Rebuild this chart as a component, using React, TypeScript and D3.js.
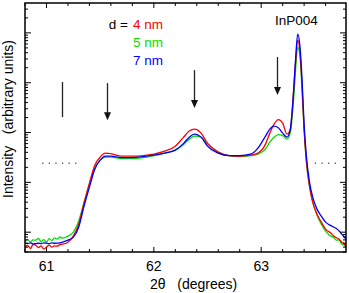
import React from 'react';
import * as d3 from 'd3';

// 2-theta scan around InP(004), log intensity, three layer thicknesses
const theta = [60.80, 60.825, 60.85, 60.875, 60.90, 60.925, 60.95, 60.975, 61.00, 61.025,
  61.05, 61.075, 61.10, 61.125, 61.15, 61.20, 61.25, 61.30, 61.35, 61.40,
  61.45, 61.50, 61.55, 61.60, 61.70, 61.80, 61.90, 62.00, 62.10, 62.20,
  62.27, 62.33, 62.38, 62.44, 62.50, 62.60, 62.70, 62.80, 62.90, 62.97,
  63.04, 63.08, 63.12, 63.16, 63.20, 63.24, 63.27, 63.30, 63.32, 63.34,
  63.36, 63.38, 63.40, 63.42, 63.45, 63.48, 63.52, 63.56, 63.60, 63.65,
  63.675, 63.70, 63.725, 63.75, 63.775, 63.80];

const int4nm = [0.500, 0.540, 0.470, 0.560, 0.548, 0.490, 0.530, 0.460, 0.500, 0.550,
  0.500, 0.530, 0.524, 0.560, 0.574, 0.630, 0.831, 1.45, 3.82, 9.64,
  22.1, 32.1, 38.6, 37.7, 33.6, 33.6, 34.4, 36.8, 42.3, 53.3,
  77.2, 107, 117, 97.3, 61.2, 40.4, 34.4, 33.6, 35.2, 38.6,
  58.5, 97.3, 148, 182, 154, 92.9, 112, 618, 2590, 7170,
  4520, 895, 112, 27.9, 8.39, 4.00, 2.30, 1.59, 1.15, 0.955,
  0.840, 0.775, 0.720, 0.630, 0.580, 0.456];

const int5nm = [0.660, 0.720, 0.630, 0.700, 0.691, 0.750, 0.640, 0.710, 0.630, 0.740,
  0.680, 0.770, 0.723, 0.800, 0.758, 0.831, 1.00, 1.66, 4.00, 9.20,
  19.3, 27.9, 32.1, 32.1, 29.9, 29.9, 31.3, 34.4, 38.6, 44.3,
  55.8, 73.7, 84.7, 80.8, 58.5, 40.4, 34.4, 32.8, 34.4, 36.8,
  46.4, 64.1, 80.8, 90.7, 86.6, 73.7, 97.3, 408, 1790, 5190,
  3580, 779, 112, 27.9, 8.39, 4.00, 2.19, 1.45, 1.05, 0.831,
  0.790, 0.691, 0.700, 0.574, 0.550, 0.435];

const int7nm = [0.601, 0.590, 0.610, 0.580, 0.588, 0.600, 0.590, 0.610, 0.601, 0.590,
  0.610, 0.600, 0.601, 0.610, 0.630, 0.691, 0.794, 1.26, 3.33, 8.01,
  18.4, 27.9, 33.6, 33.6, 31.3, 31.3, 32.8, 35.2, 38.6, 44.3,
  58.5, 80.8, 92.9, 80.8, 53.3, 38.6, 34.4, 34.4, 36.8, 48.6,
  84.7, 117, 134, 125, 97.3, 80.8, 112, 564, 2840, 9460,
  5690, 1240, 141, 35.2, 10.1, 5.04, 2.90, 2.10, 1.59, 1.35,
  1.27, 1.18, 1.06, 0.912, 0.800, 0.630];

const thickness = ['4 nm', '5 nm', '7 nm'];
const colors = ['#ff0000', '#00e000', '#0000ff'];
const xLabels = [61, 62, 63];

// markers: theta, top / bottom intensity, arrowhead or not
const markerTheta = [61.14, 61.56, 62.37, 63.15];
const markerTop = [1030, 982, 1790, 3270];
const markerBottom = [204, 177, 309, 564];
const markerArrow = [false, true, true, true];

// dotted baseline level
const baseLevel = 24.3;
const baseRanges = [[60.96, 61.33], [63.50, 63.71]];

const W = 349, H = 293;
const left = 25, right = 346, top = 3, bottom = 252;

export default function App() {
  const x = d3.scaleLinear().domain([60.8, 63.79]).range([left, right]);
  const y = d3.scaleLog().domain([0.4, 39800]).range([bottom, top]);

  const series = [int5nm, int4nm, int7nm];
  const seriesColor = [colors[1], colors[0], colors[2]];

  const line = d3.line<number>()
    .x((d, i) => x(theta[i]))
    .y(d => y(d))
    .curve(d3.curveMonotoneX);

  const yTicks = y.ticks();
  const xMinor = x.ticks(15);
  const font = '"Liberation Sans", Arial, sans-serif';

  return (
    <div style={{ position: 'absolute', left: 0, top: 0 }}>
      <svg width={W} height={H} style={{ display: 'block' }} fontFamily={font}>
        <defs>
          <clipPath id="plot">
            <rect x={left} y={top} width={right - left} height={bottom - top} />
          </clipPath>
        </defs>

        <g clipPath="url(#plot)">
          {series.map((s, k) => (
            <path key={k} d={line(s) || ''} fill="none" stroke={seriesColor[k]} strokeWidth={1.3} />
          ))}
        </g>

        {baseRanges.map((r, i) => (
          <line key={i} x1={x(r[0])} x2={x(r[1])} y1={y(baseLevel)} y2={y(baseLevel)}
            stroke="#000" strokeWidth={1} strokeDasharray="1.2,5.4" />
        ))}

        {markerTheta.map((t, i) => {
          const xx = Math.round(x(t)) + 0.5;
          const y0 = y(markerTop[i]);
          const y1 = y(markerBottom[i]);
          return (
            <g key={i}>
              <line x1={xx} x2={xx} y1={y0} y2={markerArrow[i] ? y1 - 6 : y1} stroke="#222" strokeWidth={1.3} />
              {markerArrow[i] && (
                <path d={`M${xx - 3.5},${y1 - 8} L${xx + 3.5},${y1 - 8} L${xx},${y1} Z`} fill="#111" />
              )}
            </g>
          );
        })}

        {/* y ticks, both sides */}
        {yTicks.map((v, i) => {
          const major = Math.abs(Math.log10(v) - Math.round(Math.log10(v))) < 1e-6;
          const len = major ? 6 : 3;
          const yy = y(v);
          return (
            <g key={i} stroke="#000" strokeWidth={1}>
              <line x1={left} x2={left + len} y1={yy} y2={yy} />
              <line x1={right} x2={right - len} y1={yy} y2={yy} />
            </g>
          );
        })}

        {/* x ticks, top and bottom */}
        {xMinor.map((v, i) => {
          const major = xLabels.some(l => Math.abs(l - v) < 1e-6);
          const len = major ? 5 : 3;
          const xx = x(v);
          return (
            <g key={i} stroke="#000" strokeWidth={1}>
              <line x1={xx} x2={xx} y1={bottom} y2={bottom - len} />
              <line x1={xx} x2={xx} y1={top} y2={top + len} />
            </g>
          );
        })}

        <rect x={left} y={top} width={right - left} height={bottom - top} fill="none" stroke="#000" strokeWidth={1.5} />

        {xLabels.map(v => (
          <text key={v} x={x(v)} y={271} textAnchor="middle" fontSize={14}>{v}</text>
        ))}

        <text x={150} y={289} fontSize={14} style={{ whiteSpace: 'pre' }}>{'2θ   (degrees)'}</text>
        <text transform="translate(13,119) rotate(-90)" textAnchor="middle" fontSize={14}
          style={{ whiteSpace: 'pre' }}>{'Intensity   (arbitrary units)'}</text>

        <text x={275} y={25} fontSize={13.5}>InP004</text>
        <text x={128} y={29} textAnchor="end" fontSize={13.5}>d =</text>
        {thickness.map((t, i) => (
          <text key={t} x={163} y={29 + i * 18} textAnchor="end" fontSize={13.5} fill={colors[i]}>{t}</text>
        ))}
      </svg>
    </div>
  );
}
